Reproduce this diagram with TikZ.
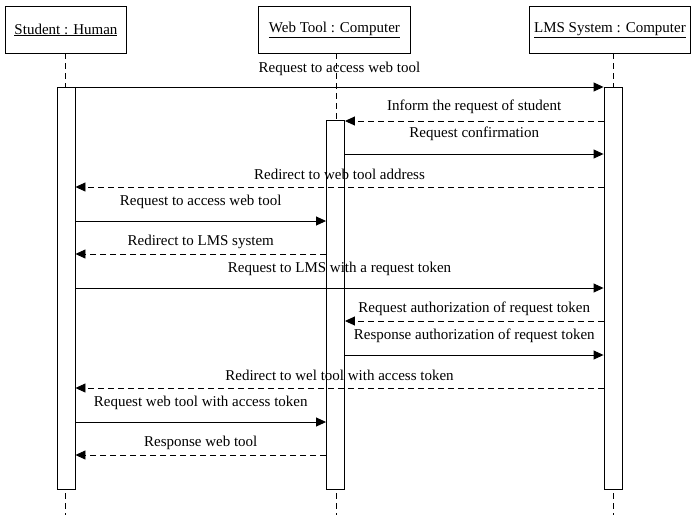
\documentclass[tikz,border=0pt]{standalone}
\usepackage{fontspec}
\setmainfont{Liberation Serif}
\usetikzlibrary{arrows.meta}
\begin{document}
\begin{tikzpicture}[x=1pt,y=-1pt,
  font=\fontsize{15}{17}\selectfont,
  objbox/.style={draw,line width=0.9pt,minimum height=47pt,inner sep=0pt,anchor=north west},
  actbox/.style={draw,line width=0.9pt,fill=white,minimum width=18pt,inner sep=0pt,anchor=north},
  life/.style={line width=0.9pt,dash pattern=on 6pt off 4pt},
  call/.style={line width=0.9pt,-{Triangle[length=10pt,width=9pt]}},
  reply/.style={call,dash pattern=on 6pt off 4pt},
  lbl/.style={inner sep=0pt}]
\useasboundingbox (0,0) rectangle (691,515);

% object headers
\node[objbox,minimum width=121pt] (hS) at (5,6) {\underline{Student : Human}};
\node[objbox,minimum width=152pt] (hW) at (258,6) {\underline{Web Tool : Computer}};
\node[objbox,minimum width=161pt] (hL) at (529,6) {\underline{LMS System : Computer}};

% lifeline anchors
\coordinate (sTop) at (65,53);  \coordinate (sBot) at (65,515);
\coordinate (wTop) at (336,53); \coordinate (wBot) at (336,515);
\coordinate (lTop) at (613,53); \coordinate (lBot) at (613,515);

\draw[life] (sTop) -- (sBot);
\draw[life] (wTop) -- (wBot);
\draw[life] (lTop) -- (lBot);

% activation bars
\node[actbox,minimum height=402pt] (aS) at (66,87) {};
\node[actbox,minimum height=369pt] (aW) at (335.5,120) {};
\node[actbox,minimum height=402pt] (aL) at (613,87) {};

% message levels
\foreach \n/\y in {1/87,2/121,3/154,4/187,5/221,6/254,7/288,8/321,9/355,10/388,11/422,12/455}
  \coordinate (m\n) at (0,\y);

% messages (label offsets measured upward from each arrow)
\draw[call]  (aS.east |- m1)  -- node[lbl,yshift=18pt] (t1) {Request to access web tool} (aL.west |- m1);
\draw[reply] (aL.west |- m2)  -- node[lbl,yshift=14pt] (t2) {Inform the request of student} (aW.east |- m2);
\draw[call]  (aW.east |- m3)  -- node[lbl,yshift=20pt] (t3) {Request confirmation} (aL.west |- m3);
\draw[reply] (aL.west |- m4)  -- node[lbl,yshift=13pt] (t4) {Redirect to web tool address} (aS.east |- m4);
\draw[call]  (aS.east |- m5)  -- node[lbl,yshift=19pt] (t5) {Request to access web tool} (aW.west |- m5);
\draw[reply] (aW.west |- m6)  -- node[lbl,yshift=12pt] (t6) {Redirect to LMS system} (aS.east |- m6);
\draw[call]  (aS.east |- m7)  -- node[lbl,yshift=19pt] (t7) {Request to LMS with a request token} (aL.west |- m7);
\draw[reply] (aL.west |- m8)  -- node[lbl,yshift=12pt] (t8) {Request authorization of request token} (aW.east |- m8);
\draw[call]  (aW.east |- m9)  -- node[lbl,yshift=19pt] (t9) {Response authorization of request token} (aL.west |- m9);
\draw[reply] (aL.west |- m10) -- node[lbl,yshift=13pt] (t10) {Redirect to wel tool with access token} (aS.east |- m10);
\draw[call]  (aS.east |- m11) -- node[lbl,yshift=19pt] (t11) {Request web tool with access token} (aW.west |- m11);
\draw[reply] (aW.west |- m12) -- node[lbl,yshift=12pt] (t12) {Response web tool} (aS.east |- m12);
\end{tikzpicture}
\end{document}
